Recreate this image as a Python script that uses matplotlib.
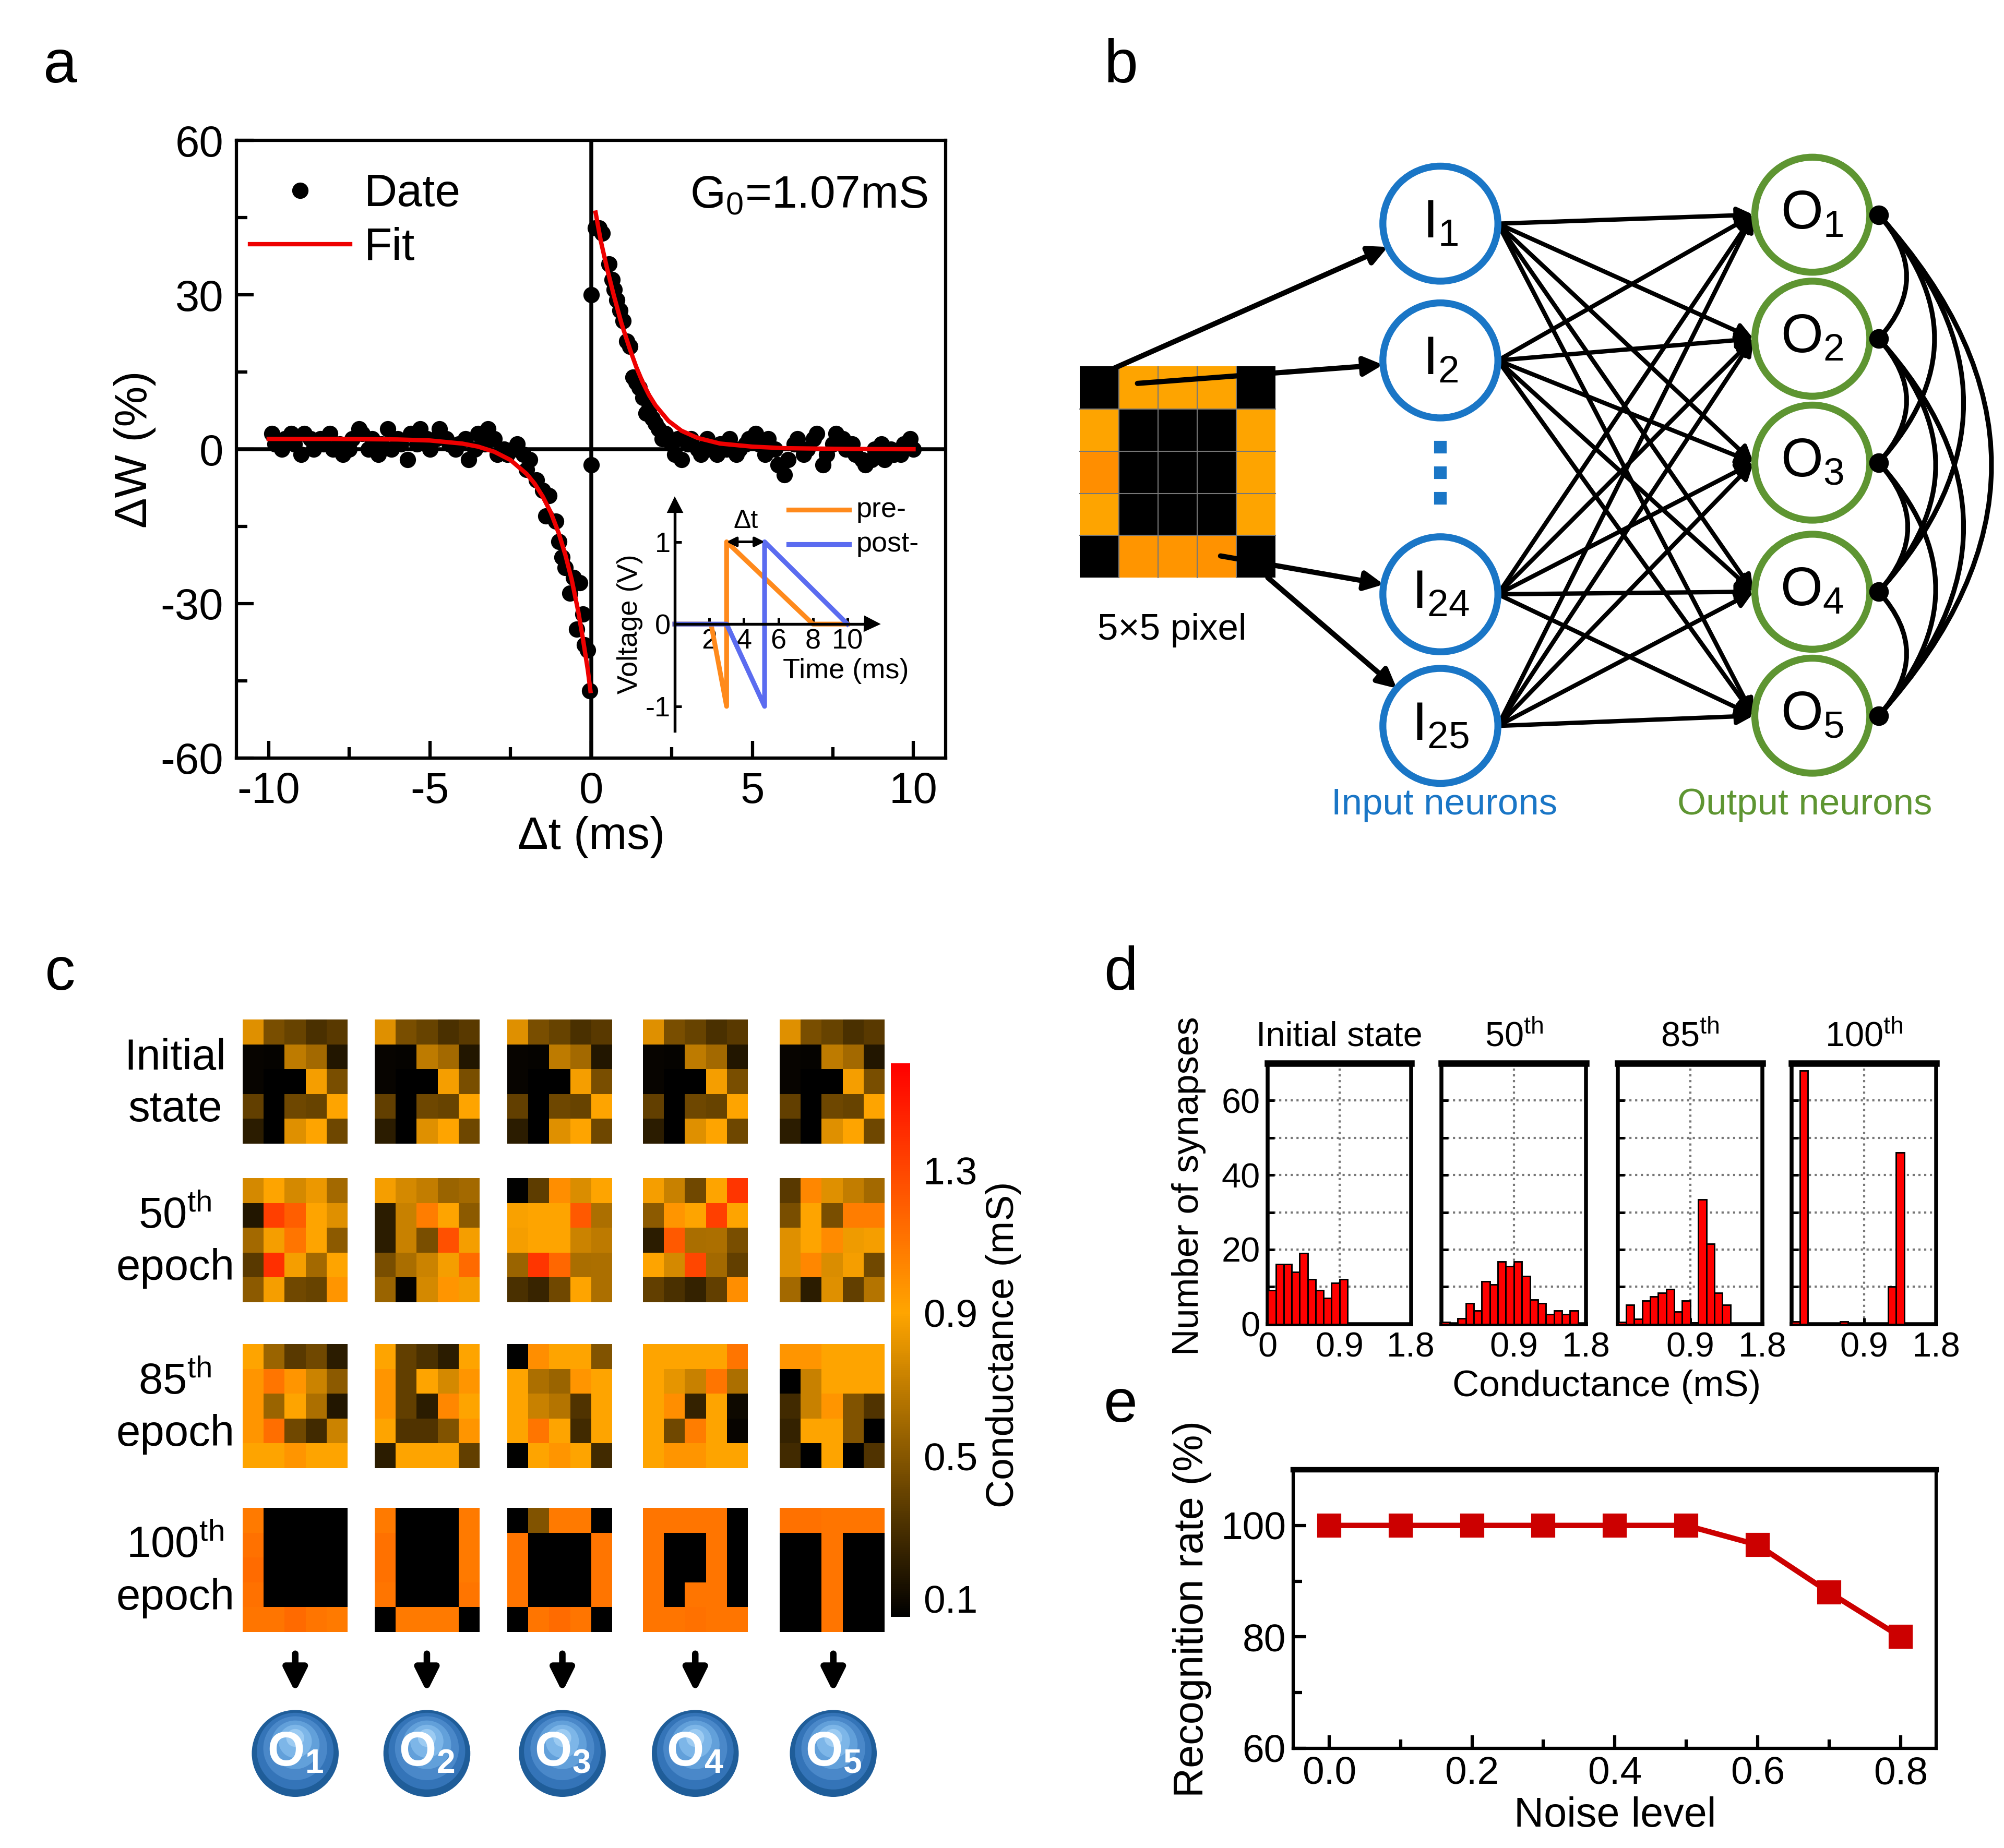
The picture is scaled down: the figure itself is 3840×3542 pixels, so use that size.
import numpy as np
import matplotlib
matplotlib.use("Agg")
import matplotlib.pyplot as plt
from matplotlib.colors import LinearSegmentedColormap, Normalize
from matplotlib.patches import Circle, FancyArrowPatch
import matplotlib.cm as cm

plt.rcParams['font.family'] = ['Liberation Sans', 'DejaVu Sans']
plt.rcParams['mathtext.fontset'] = 'custom'
plt.rcParams['mathtext.rm'] = 'Liberation Sans'
plt.rcParams['mathtext.it'] = 'Liberation Sans:italic'
plt.rcParams['mathtext.bf'] = 'Liberation Sans:bold'
plt.rcParams['axes.unicode_minus'] = False

# ---------------- data ----------------

# (a) STDP measurement, dt in ms, dW in %
dw_neg_t = [-9.9, -9.8, -9.6, -9.5, -9.3, -9.2, -9.0, -8.9, -8.7, -8.6, -8.4, -8.3,
            -8.1, -8.0, -7.8, -7.7, -7.5, -7.4, -7.2, -7.1, -6.9, -6.8, -6.6, -6.5,
            -6.3, -6.2, -6.0, -5.9, -5.7, -5.6, -5.4, -5.3, -5.1, -5.0, -4.8, -4.7,
            -4.5, -4.4, -4.2, -4.1, -3.9, -3.8, -3.6, -3.5, -3.3, -3.2, -3.0, -2.9,
            -2.7, -2.6, -2.4, -2.3, -2.1, -2.0, -1.9, -1.7, -1.5, -1.4, -1.3, -1.1,
            -1.0, -0.9, -0.8, -0.65, -0.55, -0.45, -0.35, -0.25, -0.2, -0.1, -0.05]
dw_neg = [3, 1, 0, 2, 3, 1, -1, 3, 2, 0, 2, 1,
          3, 0, 1, -1, 0, 2, 4, 3, 0, 2, -1, 1,
          4, 0, 2, 1, -2, 3, 1, 4, 2, 0, 2, 4,
          2, 1, 0, 1, 2, -2, 0, 3, 1, 4, 2, -1,
          0, -1, 0, 1, -1, -4, -2, -6, -8, -13, -9, -14,
          -18, -21, -23, -28, -25, -35, -26, -32, -38, -39, -47]
dw_pos_t = [0.0, 0.0, 0.14, 0.25, 0.35, 0.55, 0.65, 0.72, 0.8, 0.9, 1.0, 1.1,
            1.2, 1.3, 1.4, 1.5, 1.6, 1.7, 1.8, 1.9, 2.0, 2.1, 2.2, 2.3,
            2.5, 2.6, 2.7, 2.8, 3.0, 3.1, 3.3, 3.4, 3.6, 3.7, 3.9, 4.0,
            4.2, 4.3, 4.5, 4.6, 4.8, 4.9, 5.1, 5.2, 5.4, 5.5, 5.7, 5.8,
            6.0, 6.1, 6.3, 6.4, 6.6, 6.7, 6.9, 7.0, 7.2, 7.3, 7.5, 7.6,
            7.8, 7.9, 8.1, 8.2, 8.4, 8.5, 8.7, 8.8, 9.0, 9.1, 9.3, 9.4,
            9.6, 9.7, 9.9, 10.0]
dw_pos = [30, -3, 43, 43, 42, 36, 33, 31, 29, 27, 25, 21,
          20, 14, 13, 12, 10, 7, 8, 6, 5, 4, 2, 3,
          1, -1, 2, -2, 1, 2, 0, -1, 2, 0, -1, 1,
          0, 2, -1, 0, 1, 2, 3, 1, -1, 2, 0, -3,
          -5, -2, 1, 2, -1, 0, 2, 3, -3, -1, 1, 3,
          2, 0, 1, -1, -2, -3, -2, 0, 1, -2, 0, -1,
          -1, 1, 2, 0]
fit_neg_t = [-10, -8, -6, -5, -4, -3.5, -3, -2.5, -2, -1.75, -1.5, -1.25, -1,
             -0.8, -0.6, -0.4, -0.25, -0.1, -0.02]
fit_neg = [2, 2, 1.9, 1.7, 1.1, 0.5, -0.5, -2.1, -4.8, -6.7, -9.2, -12.3, -16.4,
           -20.5, -25.4, -31.5, -37, -43, -47]
fit_pos_t = [0.14, 0.3, 0.5, 0.7, 0.94, 1.2, 1.4, 1.6, 1.8, 2.0, 2.4, 2.8, 3.3,
             4.0, 5.0, 6.0, 8.0, 10.0]
fit_pos = [46, 40.5, 35, 30, 24.5, 19.5, 16, 13, 10.5, 8.5, 5.5, 3.6, 2.2,
           1.1, 0.5, 0.2, 0.05, 0]

# (a) inset: spike waveforms (time ms, voltage V)
pre_t = [0, 2.1, 3.0, 3.0, 8.0, 10.0]
pre_v = [0, 0, -1, 1, 0, 0]
post_t = [0, 3.0, 5.2, 5.2, 10.0]
post_v = [0, 0, -1, 1, 0]

# (b) input pattern (mS)
pixel_pattern = [[0.05, 0.9, 0.9, 0.9, 0.05],
                 [0.9, 0.05, 0.05, 0.05, 0.9],
                 [1.0, 0.05, 0.05, 0.05, 0.9],
                 [0.9, 0.05, 0.05, 0.05, 0.9],
                 [0.05, 0.97, 0.97, 0.98, 0.05]]

# (c) synaptic weight maps (mS)
init_state = [[0.80, 0.46, 0.40, 0.30, 0.35],
              [0.08, 0.07, 0.69, 0.60, 0.17],
              [0.08, 0.05, 0.05, 0.87, 0.46],
              [0.38, 0.05, 0.42, 0.40, 0.90],
              [0.20, 0.05, 0.80, 0.90, 0.42]]
epoch50 = [
    [[0.76, 0.90, 0.76, 0.84, 0.60],
     [0.17, 1.33, 1.20, 0.90, 0.80],
     [0.60, 0.87, 1.10, 0.90, 0.52],
     [0.35, 1.40, 0.87, 0.60, 0.90],
     [0.52, 0.87, 0.43, 0.40, 0.97]],
    [[0.87, 0.76, 0.70, 0.57, 0.60],
     [0.20, 0.72, 1.07, 0.90, 0.52],
     [0.20, 0.72, 0.46, 1.26, 0.87],
     [0.46, 0.62, 0.73, 0.87, 1.15],
     [0.57, 0.07, 0.76, 0.97, 0.87]],
    [[0.06, 0.37, 1.00, 0.78, 0.90],
     [0.88, 0.90, 0.90, 1.22, 0.63],
     [0.87, 0.90, 0.90, 0.73, 0.68],
     [0.57, 1.37, 1.16, 0.62, 0.63],
     [0.30, 0.24, 0.43, 0.90, 0.63]],
    [[0.87, 0.72, 0.43, 0.90, 1.37],
     [0.52, 0.97, 0.90, 1.33, 0.90],
     [0.20, 1.22, 0.62, 0.63, 0.46],
     [0.90, 0.76, 1.30, 0.60, 0.38],
     [0.38, 0.30, 0.23, 0.38, 1.00]],
    [[0.35, 1.03, 0.80, 0.70, 0.60],
     [0.46, 0.90, 0.46, 1.07, 1.07],
     [0.80, 0.90, 1.01, 0.85, 0.87],
     [0.80, 1.03, 0.78, 0.87, 0.43],
     [0.60, 0.20, 0.80, 0.38, 0.65]],
]
epoch85 = [
    [[0.90, 0.57, 0.35, 0.43, 0.20],
     [0.97, 1.10, 0.97, 0.73, 0.52],
     [0.97, 0.57, 0.90, 0.63, 0.17],
     [0.97, 1.13, 0.43, 0.27, 0.73],
     [0.90, 0.90, 0.97, 0.90, 0.90]],
    [[0.90, 0.38, 0.30, 0.20, 0.90],
     [0.97, 0.38, 0.90, 0.76, 0.97],
     [0.97, 0.38, 0.20, 1.03, 0.90],
     [0.90, 0.32, 0.32, 0.48, 0.97],
     [0.20, 0.90, 0.90, 0.90, 0.38]],
    [[0.06, 1.00, 0.90, 0.90, 0.48],
     [0.90, 0.63, 0.57, 0.97, 0.90],
     [0.90, 0.72, 0.65, 0.32, 0.90],
     [0.90, 1.10, 0.90, 0.27, 0.90],
     [0.06, 0.90, 0.97, 0.90, 0.27]],
    [[0.90, 0.90, 0.90, 0.90, 1.10],
     [0.90, 0.82, 0.72, 1.10, 0.63],
     [0.90, 1.00, 0.23, 0.90, 0.10],
     [0.90, 0.43, 1.07, 0.90, 0.08],
     [0.90, 0.97, 0.97, 0.90, 0.90]],
    [[0.97, 0.97, 0.90, 0.90, 0.90],
     [0.05, 0.72, 0.90, 0.90, 0.90],
     [0.27, 0.72, 0.97, 0.48, 0.32],
     [0.23, 0.90, 0.90, 0.48, 0.05],
     [0.27, 0.05, 0.90, 0.05, 0.32]],
]
epoch100 = [
    [[1.08, 0.05, 0.05, 0.05, 0.05],
     [1.12, 0.05, 0.05, 0.05, 0.05],
     [1.14, 0.05, 0.05, 0.05, 0.05],
     [1.12, 0.05, 0.05, 0.05, 0.05],
     [1.10, 1.10, 1.15, 1.10, 1.08]],
    [[1.08, 0.05, 0.05, 0.05, 1.08],
     [1.12, 0.05, 0.05, 0.05, 1.08],
     [1.12, 0.05, 0.05, 0.05, 1.08],
     [1.10, 0.05, 0.05, 0.05, 1.10],
     [0.05, 1.08, 1.08, 1.08, 0.05]],
    [[0.05, 0.48, 1.08, 1.08, 0.05],
     [1.10, 0.05, 0.05, 0.05, 1.10],
     [1.10, 0.05, 0.05, 0.05, 1.10],
     [1.10, 0.05, 0.05, 0.05, 1.10],
     [0.05, 1.10, 1.14, 1.10, 0.05]],
    [[1.10, 1.10, 1.10, 1.10, 0.05],
     [1.10, 0.05, 0.05, 1.10, 0.05],
     [1.10, 0.05, 0.05, 1.10, 0.05],
     [1.10, 0.05, 1.10, 1.10, 0.05],
     [1.10, 1.10, 1.12, 1.10, 1.10]],
    [[1.12, 1.12, 1.10, 1.10, 1.10],
     [0.05, 0.05, 1.10, 0.05, 0.05],
     [0.05, 0.05, 1.10, 0.05, 0.05],
     [0.05, 0.05, 1.10, 0.05, 0.05],
     [0.05, 0.05, 1.10, 0.05, 0.05]],
]
row_labels = ['Initial\nstate', '50$^{\\mathrm{th}}$\nepoch',
              '85$^{\\mathrm{th}}$\nepoch', '100$^{\\mathrm{th}}$\nepoch']

# (d) conductance histograms: bin centres (mS) and counts
hist_titles = ['Initial state', '50$^{\\mathrm{th}}$', '85$^{\\mathrm{th}}$', '100$^{\\mathrm{th}}$']
hist_init_x = [0.05, 0.15, 0.25, 0.35, 0.45, 0.55, 0.65, 0.75, 0.85, 0.95]
hist_init_n = [9, 16, 16, 14, 19, 12, 9, 7, 11, 12]
hist_50_x = [0.05, 0.25, 0.35, 0.45, 0.55, 0.65, 0.75, 0.85, 0.95, 1.05, 1.15,
             1.25, 1.35, 1.45, 1.55, 1.65]
hist_50_n = [0.5, 1.5, 5.5, 3.6, 11.5, 10.6, 16.7, 15.5, 16.7, 12.8, 6.5,
             5.5, 2.6, 3.6, 2.6, 3.6]
hist_85_x = [0.05, 0.15, 0.25, 0.35, 0.45, 0.55, 0.65, 0.75, 0.85, 0.95, 1.05,
             1.15, 1.25, 1.35]
hist_85_n = [0.5, 5.2, 1.3, 6.2, 7.4, 8.3, 9.3, 3.3, 6.2, 0.4, 33.5, 21.5, 8.3, 5.2]
hist_100_x = [0.05, 0.15, 0.65, 1.25, 1.35]
hist_100_n = [0.6, 68, 0.6, 10, 46]

# (e) recognition vs noise
noise_level = [0.0, 0.1, 0.2, 0.3, 0.4, 0.5, 0.6, 0.7, 0.8]
recog_rate = [100, 100, 100, 100, 100, 100, 96.5, 88, 80]

# ---------------- layout helpers ----------------
W, H = 1568, 1446   # layout grid of the figure


def box(x0, y0, x1, y1):
    return [x0 / W, 1 - y1 / H, (x1 - x0) / W, (y1 - y0) / H]


cmap = LinearSegmentedColormap.from_list(
    'cond', [(0, 'black'), (0.55, '#FFA500'), (1.0, '#FF0000')])
norm = Normalize(vmin=0.05, vmax=1.6)

fig = plt.figure(figsize=(12.8, 3542 / 300), dpi=300)

ov = fig.add_axes([0, 0, 1, 1])
ov.set_autoscale_on(False)
ov.set_xlim(0, W)
ov.set_ylim(H, 0)
ov.axis('off')

for lab, (x, y) in zip('abcde', [(47, 52), (877, 52), (47, 762), (877, 762), (877, 1100)]):
    ov.text(x, y, lab, fontsize=28, ha='center', va='center')

# ---------------- panel a ----------------
ax = fig.add_axes(box(185, 110, 740, 593))
ax.axhline(0, color='k', lw=1.8, zorder=1)
ax.axvline(0, color='k', lw=1.8, zorder=1)
ax.plot(dw_neg_t + dw_pos_t, dw_neg + dw_pos, 'o', color='k', ms=6.5,
        label='Date', zorder=3)
ax.plot(fit_neg_t, fit_neg, color='#EE0000', lw=2.0, label='Fit', zorder=4)
ax.plot(fit_pos_t, fit_pos, color='#EE0000', lw=2.0, zorder=4)
ax.set_xlim(-11, 11)
ax.set_ylim(-60, 60)
ax.set_xticks([-10, -5, 0, 5, 10])
ax.set_xticks([-7.5, -2.5, 2.5, 7.5], minor=True)
ax.set_yticks([-60, -30, 0, 30, 60])
ax.set_yticks([-45, -15, 15, 45], minor=True)
ax.tick_params(which='both', direction='in', width=1.5, labelsize=20)
ax.tick_params(which='major', length=8, pad=6)
ax.tick_params(which='minor', length=5)
for s in ax.spines.values():
    s.set_linewidth(1.5)
ax.set_xlabel('Δt (ms)', fontsize=21, labelpad=2)
ax.set_ylabel('ΔW (%)', fontsize=21, labelpad=2)
ax.legend(loc='upper left', bbox_to_anchor=(-0.01, 0.98), frameon=False,
          fontsize=21, handlelength=2.2, numpoints=1, borderaxespad=0.05,
          handletextpad=0.3, labelspacing=0.25)
ax.text(0.975, 0.91, 'G$_0$=1.07mS', transform=ax.transAxes, fontsize=21,
        ha='right', va='center')

# inset
ins = fig.add_axes(box(528, 395, 682, 572))
ins.set_xlim(0, 11.4)
ins.set_ylim(-1.3, 1.45)
ins.patch.set_alpha(0)
ins.plot(pre_t, pre_v, color='#FF8A1C', lw=2.2, clip_on=False)
ins.plot(post_t, post_v, color='#5B6CF0', lw=2.2, clip_on=False)
ins.spines['left'].set_position(('data', 0))
ins.spines['bottom'].set_position(('data', 0))
ins.spines['top'].set_visible(False)
ins.spines['right'].set_visible(False)
ins.spines['left'].set_linewidth(1.3)
ins.spines['bottom'].set_linewidth(1.3)
ins.plot(0, 1.45, '^', color='k', ms=6, clip_on=False)
ins.plot(11.4, 0, '>', color='k', ms=6, clip_on=False)
ins.set_xticks([2, 4, 6, 8, 10])
ins.set_yticks([-1, 0, 1])
ins.tick_params(direction='in', length=3, width=1.2, labelsize=13, pad=2)
ins.set_xticklabels(['2', '4', '6', '8', '10'])
ins.annotate('', xy=(3.0, 1), xytext=(5.2, 1),
             arrowprops=dict(arrowstyle='<|-|>', lw=1.2, color='k',
                             mutation_scale=9, shrinkA=0, shrinkB=0))
ins.text(4.1, 1.25, 'Δt', fontsize=12, ha='center', va='center')
ins.plot([6.6, 10.1], [1.39, 1.39], color='#FF8A1C', lw=2.2, clip_on=False)
ins.plot([6.6, 10.1], [0.97, 0.97], color='#5B6CF0', lw=2.2, clip_on=False)
ins.text(10.5, 1.39, 'pre-', fontsize=13, va='center')
ins.text(10.5, 0.97, 'post-', fontsize=13, va='center')
ins.text(9.9, -0.57, 'Time (ms)', fontsize=13, ha='center', va='center')
ins.text(-2.6, 0.0, 'Voltage (V)', fontsize=13, ha='center', va='center',
         rotation=90)

# ---------------- panel b ----------------
ov.imshow(pixel_pattern, cmap=cmap, norm=norm, extent=(845, 998, 452, 287),
          aspect='auto', interpolation='nearest', zorder=1)
for k in range(1, 5):
    ov.plot([845 + k * 30.6] * 2, [287, 452], color='#777777', lw=0.5, zorder=1.5)
    ov.plot([845, 998], [287 + k * 33] * 2, color='#777777', lw=0.5, zorder=1.5)
ov.text(917, 493, '5×5 pixel', fontsize=17, ha='center', va='center')

in_x, out_x, rad = 1127, 1418, 45
in_y = [175, 282, 465, 568]
out_y = [168, 265, 362, 463, 560]
in_sub = ['1', '2', '24', '25']
blue, green = '#1A76C6', '#5E9532'


def arrow(p0, p1, lw=2.0, ms=18):
    ov.annotate('', xy=p1, xytext=p0,
                arrowprops=dict(arrowstyle='-|>', lw=lw, color='k',
                                mutation_scale=ms, shrinkA=0, shrinkB=0))


# pixel -> input neurons
for (sx, sy), yi in zip([(872, 288), (890, 300), (955, 435), (992, 452)], in_y):
    d = np.array([in_x - sx, yi - sy], float)
    d /= np.hypot(*d)
    arrow((sx, sy), (in_x - rad * d[0], yi - rad * d[1]), lw=2.4)

# input -> output, all to all
for yi in in_y:
    for yo in out_y:
        arrow((in_x + rad, yi), (out_x - rad - 1, yo), lw=2.0, ms=15)

for yi, s in zip(in_y, in_sub):
    ov.add_patch(Circle((in_x, yi), rad, fc='white', ec=blue, lw=3.2, zorder=3))
    ov.text(in_x, yi, 'I$_{%s}$' % s, fontsize=25, ha='center', va='center', zorder=4)
for yy in [350, 370, 390]:
    ov.plot(in_x, yy, 's', color=blue, ms=5)

for i, yo in enumerate(out_y):
    ov.add_patch(Circle((out_x, yo), rad, fc='white', ec=green, lw=3.2, zorder=3))
    ov.text(out_x, yo, 'O$_{%d}$' % (i + 1), fontsize=25, ha='center',
            va='center', zorder=4)
    ov.plot(out_x + 52, yo, 'o', color='k', ms=8, zorder=4)

for i in range(5):
    for j in range(i + 1, 5):
        ov.add_patch(FancyArrowPatch((out_x + 52, out_y[i]), (out_x + 52, out_y[j]),
                                     connectionstyle='arc3,rad=-0.45',
                                     arrowstyle='-', lw=2.2, color='k',
                                     shrinkA=0, shrinkB=0))

ov.text(1130, 630, 'Input neurons', fontsize=17, color=blue, ha='center', va='center')
ov.text(1412, 630, 'Output neurons', fontsize=17, color=green, ha='center', va='center')

# ---------------- panel c ----------------
col_x = [190, 293, 397, 503, 610]
row_y = [798, 922, 1052, 1180]
maps = [[init_state] * 5, epoch50, epoch85, epoch100]
for r, (y0, row) in enumerate(zip(row_y, maps)):
    for x0, m in zip(col_x, row):
        ov.imshow(m, cmap=cmap, norm=norm, extent=(x0, x0 + 82, y0 + 97, y0),
                  aspect='auto', interpolation='nearest')
    ov.text(137, y0 + 50, row_labels[r], fontsize=20, ha='center', va='center',
            linespacing=1.35)

cax = fig.add_axes(box(697, 832, 712, 1265))
cb = fig.colorbar(cm.ScalarMappable(norm=norm, cmap=cmap), cax=cax)
cb.set_ticks([0.1, 0.5, 0.9, 1.3])
cb.ax.tick_params(labelsize=18, length=0, pad=6)
cb.outline.set_visible(False)
ov.text(785, 1052, 'Conductance (mS)', fontsize=18, rotation=90,
        ha='center', va='center')

for i, x in enumerate([231, 334, 440, 544, 652]):
    ov.annotate('', xy=(x, 1324), xytext=(x, 1294),
                arrowprops=dict(arrowstyle='-|>', lw=3, color='k',
                                mutation_scale=22, shrinkA=0, shrinkB=0))
    for k, (rr, c) in enumerate(zip([34, 30, 25, 19, 13, 7],
                                    ['#1F5D99', '#3474B8', '#4A88C9',
                                     '#62A0DA', '#7DB6E8', '#9CCBF2'])):
        ov.add_patch(Circle((x, 1372 - (34 - rr) * 0.45), rr, fc=c, ec='none',
                            zorder=3 + k * 0.01))
    ov.text(x, 1372, r'$\mathbf{O_%d}$' % (i + 1), fontsize=22, color='white',
            ha='center', va='center', zorder=4)

# ---------------- panel d ----------------
hist_boxes = [(992, 832, 1104, 1036), (1128, 832, 1241, 1036),
              (1266, 832, 1379, 1036), (1402, 832, 1515, 1036)]
hist_data = [(hist_init_x, hist_init_n), (hist_50_x, hist_50_n),
             (hist_85_x, hist_85_n), (hist_100_x, hist_100_n)]
for k, (bx, (hx, hn)) in enumerate(zip(hist_boxes, hist_data)):
    hax = fig.add_axes(box(*bx))
    hax.bar(hx, hn, width=0.1, color='#FF0000', edgecolor='k', lw=0.7, zorder=3)
    hax.set_xlim(0, 1.8)
    hax.set_ylim(0, 70)
    hax.set_yticks([0, 20, 40, 60])
    hax.set_yticks([10, 30, 50], minor=True)
    hax.set_xticks([0, 0.9, 1.8])
    hax.grid(True, which='both', ls=':', color='#777777', lw=1.0, zorder=0)
    hax.tick_params(which='both', direction='in', length=3, width=1.2,
                    labelsize=16)
    if k == 0:
        hax.set_xticklabels(['0', '0.9', '1.8'])
    else:
        hax.set_xticklabels(['', '0.9', '1.8'])
        hax.set_yticklabels([])
    for s in hax.spines.values():
        s.set_linewidth(1.8)
    hax.spines['top'].set_linewidth(3.0)
    hax.set_title(hist_titles[k], fontsize=16, pad=8)
ov.text(930, 928, 'Number of synapses', fontsize=17, rotation=90,
        ha='center', va='center')
ov.text(1257, 1085, 'Conductance (mS)', fontsize=17, ha='center', va='center')

# ---------------- panel e ----------------
eax = fig.add_axes(box(1012, 1150, 1515, 1368))
eax.plot(noise_level, recog_rate, '-s', color='#CC0000', lw=2.5, ms=10)
eax.set_xlim(-0.05, 0.85)
eax.set_ylim(60, 110)
eax.set_xticks([0.0, 0.2, 0.4, 0.6, 0.8])
eax.set_xticks([0.1, 0.3, 0.5, 0.7], minor=True)
eax.set_yticks([60, 80, 100])
eax.set_yticks([70, 90], minor=True)
eax.tick_params(which='both', direction='in', width=1.5, labelsize=18)
eax.tick_params(which='major', length=6)
eax.tick_params(which='minor', length=4)
for s in eax.spines.values():
    s.set_linewidth(1.5)
eax.spines['top'].set_linewidth(2.5)
eax.set_xlabel('Noise level', fontsize=19, labelpad=2)
eax.set_ylabel('Recognition rate (%)', fontsize=19, labelpad=4)

fig.savefig('out.png', dpi=300)
